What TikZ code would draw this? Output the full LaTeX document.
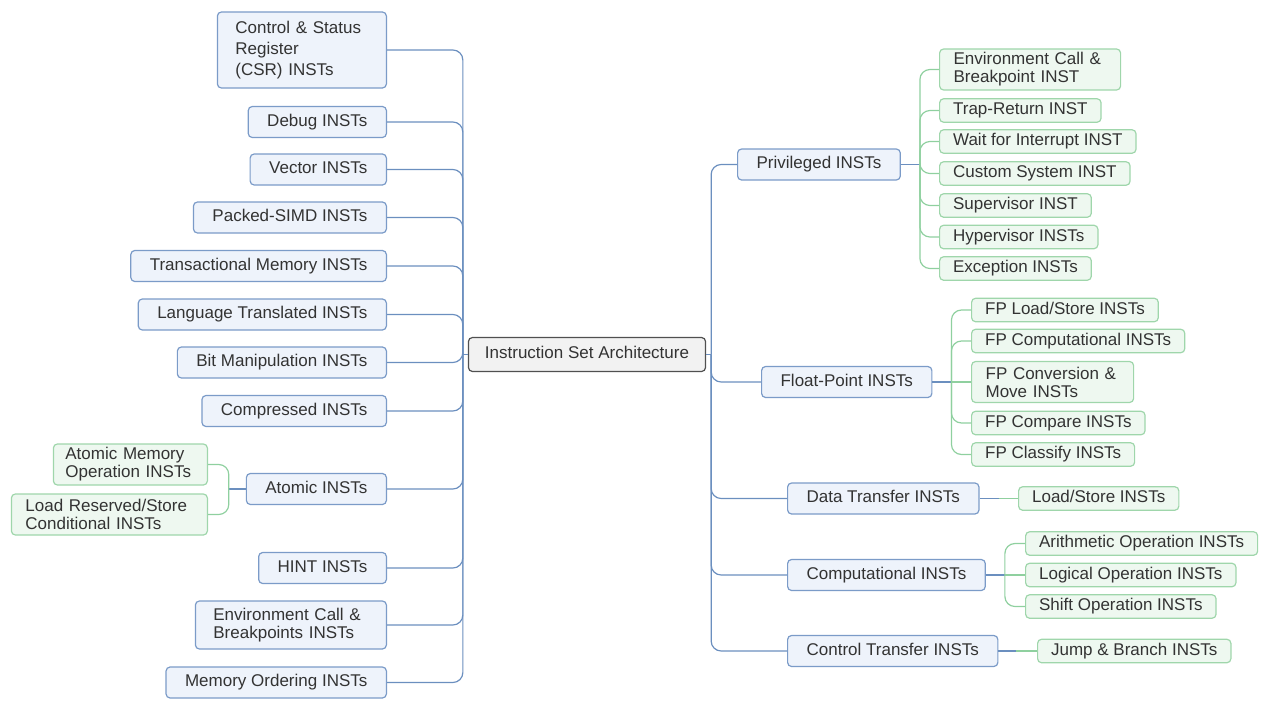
\documentclass[tikz,border=0pt]{standalone}
\usepackage{fontspec}
\setmainfont{Liberation Sans}
\usetikzlibrary{positioning}
\definecolor{bfill}{HTML}{EEF3FB}
\definecolor{bdraw}{HTML}{7B9BC8}
\definecolor{bedge}{HTML}{6B8FBF}
\definecolor{gfill}{HTML}{EEF8F0}
\definecolor{gdraw}{HTML}{9FD6AB}
\definecolor{gedge}{HTML}{8FD09F}
\definecolor{rfill}{HTML}{F2F2F2}
\definecolor{rdraw}{HTML}{505050}
\definecolor{txt}{HTML}{333333}

\begin{document}
\begin{tikzpicture}[x=1pt, y=-1pt,
  every node/.style={font=\fontsize{17}{18}\selectfont, text=txt, line width=1.2pt, rounded corners=4pt},
  bbox/.style={draw=bdraw, fill=bfill, inner xsep=19pt, inner ysep=3pt, minimum height=31pt, text height=12.5pt, text depth=3.6pt},
  gbox/.style={draw=gdraw, fill=gfill, inner xsep=13.5pt, inner ysep=2pt, minimum height=23.5pt, text height=12.5pt, text depth=3.6pt},
  bbox2/.style={draw=bdraw, fill=bfill, inner xsep=18pt, inner ysep=3pt, minimum height=48pt, align=left},
  gbox2/.style={draw=gdraw, fill=gfill, inner xsep=14pt, inner ysep=2pt, minimum height=41pt, align=left},
  bline/.style={draw=bedge, line width=1.2pt, rounded corners=10pt},
  gline/.style={draw=gedge, line width=1.2pt, rounded corners=10pt}]
                    \useasboundingbox (0,0) rectangle (1273,709);
                    \node[draw=rdraw, fill=rfill, inner xsep=16.5pt, minimum height=34pt, text height=12.5pt, text depth=3.6pt](root) at (587,354.5){Instruction Set Architecture};
                    \coordinate[left=5pt of root](tl);
                    \coordinate[right=5pt of root](tr);
                    \node[bbox2, text width=133pt, minimum height=76pt, font=\fontsize{17}{21}\selectfont, anchor=east](csr) at (387,50){Control \& Status\\Register\\(CSR) INSTs};
                    \node[bbox, anchor=east](debug) at (387,122){Debug INSTs};
                    \node[bbox, anchor=east](vec) at (387,169.5){Vector INSTs};
                    \node[bbox, anchor=east](simd) at (387,217.5){Packed-SIMD INSTs};
                    \node[bbox, anchor=east](tm) at (387,266){Transactional Memory INSTs};
                    \node[bbox, anchor=east](lt) at (387,314.5){Language Translated INSTs};
                    \node[bbox, anchor=east](bm) at (387,362.5){Bit Manipulation INSTs};
                    \node[bbox, anchor=east](cmp) at (387,411){Compressed INSTs};
                    \node[bbox, anchor=east](atomic) at (387,489){Atomic INSTs};
                    \node[bbox, anchor=east](hint) at (387,568){HINT INSTs};
                    \node[bbox2, text width=155pt, anchor=east](envl) at (387,625){Environment Call \&\\Breakpoints INSTs};
                    \node[bbox, anchor=east](mo) at (387,682.5){Memory Ordering INSTs};
                    \coordinate[left=17pt of atomic](as);
                    \node[gbox2, text width=130pt, inner xsep=12pt, anchor=east](amo) at (208,464.5){Atomic Memory\\Operation INSTs};
                    \node[gbox2, text width=168pt, anchor=east](lrsc) at (208,514.5){Load Reserved/Store\\Conditional INSTs};
                    \node[bbox, anchor=west](priv) at (737,164.5){Privileged INSTs};
                    \node[bbox, anchor=west](fp) at (761,382){Float-Point INSTs};
                    \node[bbox, anchor=west](dt) at (787,498.5){Data Transfer INSTs};
                    \node[bbox, anchor=west](cpt) at (787,575){Computational INSTs};
                    \node[bbox, anchor=west](ct) at (787,651){Control Transfer INSTs};
                    \coordinate[right=19pt of priv](ps);
                    \node[gbox2, text width=153pt, anchor=west](ecb) at (939,69.5){Environment Call \&\\Breakpoint INST};
                    \node[gbox, anchor=west](trap) at (939,110.5){Trap-Return INST};
                    \node[gbox, anchor=west](wfi) at (939,141.5){Wait for Interrupt INST};
                    \node[gbox, anchor=west](cust) at (939,173.5){Custom System INST};
                    \node[gbox, anchor=west](sup) at (939,205.5){Supervisor INST};
                    \node[gbox, anchor=west](hyp) at (939,237){Hypervisor INSTs};
                    \node[gbox, anchor=west](exc) at (939,268.5){Exception INSTs};
                    \coordinate[right=19pt of fp](fs);
                    \node[gbox, anchor=west](fpls) at (971,310){FP Load/Store INSTs};
                    \node[gbox, anchor=west](fpcomp) at (971,341){FP Computational INSTs};
                    \node[gbox2, text width=134pt, anchor=west](fpconv) at (971,382){FP Conversion \&\\Move INSTs};
                    \node[gbox, anchor=west](fpcmp) at (971,423){FP Compare INSTs};
                    \node[gbox, anchor=west](fpcls) at (971,454.5){FP Classify INSTs};
                    \coordinate[right=19pt of dt](dm);
                    \node[gbox, anchor=west](ls) at (1018,498.5){Load/Store INSTs};
                    \coordinate[right=19pt of cpt](cs);
                    \node[gbox, anchor=west](arith) at (1025,543.5){Arithmetic Operation INSTs};
                    \node[gbox, anchor=west](logic) at (1025,575){Logical Operation INSTs};
                    \node[gbox, anchor=west](shift) at (1025,606.5){Shift Operation INSTs};
                    \coordinate[right=18pt of ct](cm);
                    \node[gbox, anchor=west](jb) at (1037,651){Jump \& Branch INSTs};
                    \draw[bline] (csr.east) -| (tl);
                    \draw[bline] (debug.east) -| (tl);
                    \draw[bline] (vec.east) -| (tl);
                    \draw[bline] (simd.east) -| (tl);
                    \draw[bline] (tm.east) -| (tl);
                    \draw[bline] (lt.east) -| (tl);
                    \draw[bline] (bm.east) -| (tl);
                    \draw[bline] (cmp.east) -| (tl);
                    \draw[bline] (atomic.east) -| (tl);
                    \draw[bline] (hint.east) -| (tl);
                    \draw[bline] (envl.east) -| (tl);
                    \draw[bline] (mo.east) -| (tl);
                    \draw[bline] (tl) -- (root.west);
                    \draw[bline] (atomic.west) -- (as);
                    \draw[gline] (as) |- (amo.east);
                    \draw[gline] (as) |- (lrsc.east);
                    \draw[bline] (root.east) -- (tr);
                    \draw[bline] (tr) |- (priv.west);
                    \draw[bline] (tr) |- (fp.west);
                    \draw[bline] (tr) |- (dt.west);
                    \draw[bline] (tr) |- (cpt.west);
                    \draw[bline] (tr) |- (ct.west);
                    \draw[bline] (priv.east) -- (ps);
                    \draw[gline] (ps) |- (ecb.west);
                    \draw[gline] (ps) |- (trap.west);
                    \draw[gline] (ps) |- (wfi.west);
                    \draw[gline] (ps) |- (cust.west);
                    \draw[gline] (ps) |- (sup.west);
                    \draw[gline] (ps) |- (hyp.west);
                    \draw[gline] (ps) |- (exc.west);
                    \draw[bline] (fp.east) -- (fs);
                    \draw[gline] (fs) |- (fpls.west);
                    \draw[gline] (fs) |- (fpcomp.west);
                    \draw[gline] (fs) -- (fpconv.west);
                    \draw[gline] (fs) |- (fpcmp.west);
                    \draw[gline] (fs) |- (fpcls.west);
                    \draw[bline] (dt.east) -- (dm);
                    \draw[gline] (dm) -- (ls.west);
                    \draw[bline] (cpt.east) -- (cs);
                    \draw[gline] (cs) |- (arith.west);
                    \draw[gline] (cs) -- (logic.west);
                    \draw[gline] (cs) |- (shift.west);
                    \draw[bline] (ct.east) -- (cm);
                    \draw[gline] (cm) -- (jb.west);
                \end{tikzpicture}
\end{document}
